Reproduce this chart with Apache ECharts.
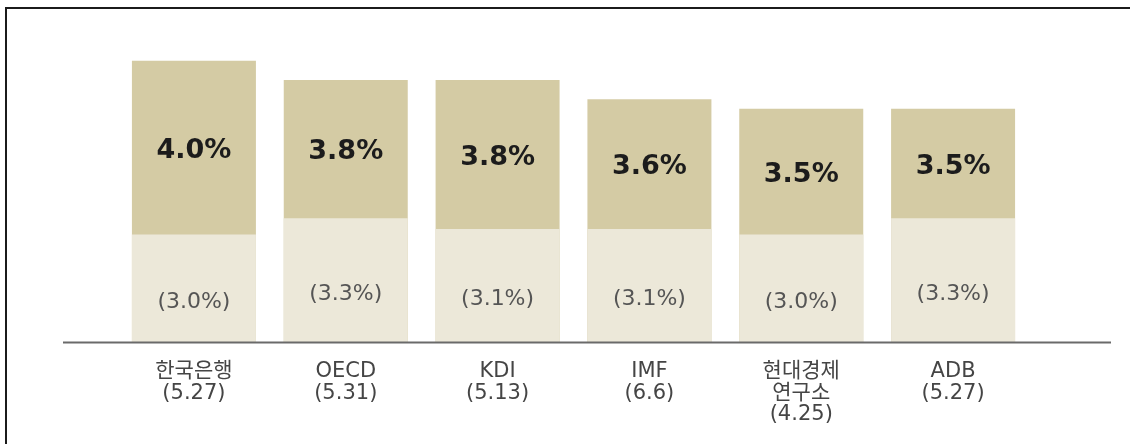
<!DOCTYPE html>
<html>
<head>
<meta charset="utf-8">
<script src="https://cdn.jsdelivr.net/npm/echarts@6/dist/echarts.min.js"></script>
<style>
	body{margin:0;background:#fff;}
	#frame{position:absolute;left:5px;top:7px;width:1125px;height:437px;border-top:2px solid #1b1b1b;border-left:2px solid #1b1b1b;}
	#growthChart{position:absolute;left:0;top:0;width:1130px;height:444px;}
</style>
</head>
<body>
<div id="frame"></div>
<div id="growthChart"></div>
<script>
// 기관별 (발표일)
var institutions = ['한국은행\n(5.27)', 'OECD\n(5.31)', 'KDI\n(5.13)', 'IMF\n(6.6)', '현대경제\n연구소\n(4.25)', 'ADB\n(5.27)'];
// 이번 전망치
var currentForecast = [4.0, 3.8, 3.8, 3.6, 3.5, 3.5];
// 이전 전망치
var previousForecast = [3.0, 3.3, 3.1, 3.1, 3.0, 3.3];

// 막대 두 개의 눈금이 다름 (원본 그림 기준)
var darkMin = 1.08, darkMax = 4.09;
var lightMin = 1.02, lightMax = 6.36;

function ratio(v, mn, mx){
	return (v - mn) / (mx - mn);
}

var chart = echarts.init(document.getElementById('growthChart'));

// 진한 막대의 보이는 부분 가운데에 라벨
var darkData = currentForecast.map(function(v, i){
	var hd = ratio(v, darkMin, darkMax);
	var hl = ratio(previousForecast[i], lightMin, lightMax);
	var pct = (hd - hl) / (2 * hd) * 100;
	return {
		value: v,
		label: {position: ['50%', pct + '%']}
	};
});

var option = {
	animation: false,
	grid: {left: 118, right: 101, top: 52, bottom: 102},
	xAxis: {
		type: 'category',
		data: institutions,
		axisLine: {show: false},
		axisTick: {show: false},
		axisLabel: {
			margin: 19,
			color: '#454545',
			fontSize: 21,
			lineHeight: 21.5,
			fontFamily: 'DejaVu Sans, Noto Sans CJK KR, sans-serif'
		}
	},
	yAxis: [{
		type: 'value',
		min: darkMin,
		max: darkMax,
		show: false
	}, {
		type: 'value',
		min: lightMin,
		max: lightMax,
		show: false
	}],
	series: [{
		name: '이번 전망',
		type: 'bar',
		yAxisIndex: 0,
		barWidth: 124,
		barGap: '-100%',
		z: 1,
		itemStyle: {color: '#d4cba4'},
		label: {
			show: true,
			align: 'center',
			verticalAlign: 'middle',
			offset: [0, 3],
			color: '#1c1c1c',
			fontSize: 27,
			fontWeight: 'bold',
			fontFamily: 'DejaVu Sans, sans-serif',
			formatter: function(p){ return p.value.toFixed(1) + '%'; }
		},
		data: darkData
	}, {
		name: '이전 전망',
		type: 'bar',
		yAxisIndex: 1,
		barWidth: 124,
		barGap: '-100%',
		z: 2,
		itemStyle: {color: '#ece8d9'},
		label: {
			show: true,
			position: 'inside',
			offset: [0, 14],
			color: '#555',
			fontSize: 22,
			fontFamily: 'DejaVu Sans, sans-serif',
			formatter: function(p){ return '(' + p.value.toFixed(1) + '%)'; }
		},
		data: previousForecast
	}],
	graphic: [{
		type: 'line',
		shape: {x1: 63, y1: 342.5, x2: 1111, y2: 342.5},
		style: {stroke: '#6a6a6a', lineWidth: 2},
		z: 10
	}]
};
chart.setOption(option);
</script>
</body>
</html>
